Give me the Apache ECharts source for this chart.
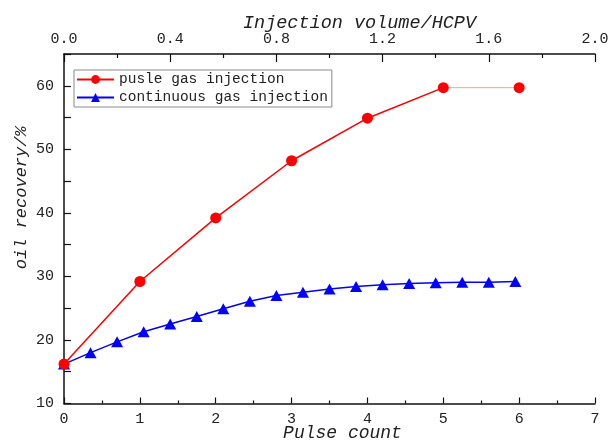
<!DOCTYPE html>
<html>
<head>
<meta charset="utf-8">
<script src="https://cdn.jsdelivr.net/npm/echarts@6/dist/echarts.min.js"></script>
<style>html,body{margin:0;padding:0;background:#fff}#c{width:609px;height:441px}</style>
</head>
<body>
<div id="c"></div>
<script>
// Pulse gas injection: x = pulse count (bottom axis)
const pulseX = [0, 1, 2, 3, 4, 5, 6];
const pulseY = [16.2, 29.2, 39.2, 48.2, 54.9, 59.7, 59.7];
// Continuous gas injection: x = injection volume HCPV (top axis)
const contX = [0, 0.1, 0.2, 0.3, 0.4, 0.5, 0.6, 0.7, 0.8, 0.9, 1.0, 1.1, 1.2, 1.3, 1.4, 1.5, 1.6, 1.7];
const contY = [16.2, 18.0, 19.7, 21.3, 22.5, 23.7, 24.9, 26.1, 27.0, 27.5, 28.0, 28.4, 28.7, 28.9, 29.0, 29.1, 29.1, 29.2];

const seriesNames = ['pusle gas injection', 'continuous gas injection'];
const axisNames = { bottom: 'Pulse count', top: 'Injection volume/HCPV', left: 'oil recovery/%' };

const FONT = '"Liberation Mono", "DejaVu Sans Mono", monospace';
const AX = '#111';

const chart = echarts.init(document.getElementById('c'), null, { renderer: 'canvas' });

const redMain = pulseX.slice(0, 6).map((x, i) => [x, pulseY[i]]);
const redTail = pulseX.slice(5).map((x, i) => {
  const pt = [x, pulseY[i + 5]];
  return i === 0 ? { value: pt, symbol: 'none' } : pt;
});

chart.setOption({
  animation: false,
  backgroundColor: '#fff',
  grid: { left: 64, right: 14, top: 54, bottom: 37.5, containLabel: false, outerBoundsMode: 'none' },
  legend: {
    orient: 'vertical',
    left: 74, top: 70,
    data: seriesNames,
    itemWidth: 37, itemHeight: 11, itemGap: 3,
    borderColor: '#8a8a8a', borderWidth: 1,
    padding: [2, 4, 2, 2],
    textStyle: { fontFamily: FONT, fontSize: 14.5, color: '#222' }
  },
  xAxis: [
    {
      type: 'value', position: 'bottom', min: 0, max: 7, interval: 1,
      axisLine: { show: true, onZero: false, lineStyle: { color: AX, width: 1.5 } },
      axisTick: { show: true, inside: true, length: 6, lineStyle: { color: AX, width: 1.2 } },
      minorTick: { show: true, splitNumber: 2, length: 3, lineStyle: { color: AX, width: 1.2 } },
      axisLabel: { color: '#222', fontFamily: FONT, fontSize: 15, margin: 8 },
      splitLine: { show: false },
      name: axisNames.bottom, nameLocation: 'middle', nameGap: 21, nameMoveOverlap: false,
      nameTextStyle: { fontFamily: FONT, fontStyle: 'italic', fontSize: 18, color: '#222', padding: [0, 0, 0, 26] }
    },
    {
      type: 'value', position: 'top', min: 0, max: 2, interval: 0.4,
      axisLine: { show: true, onZero: false, lineStyle: { color: AX, width: 1.5 } },
      axisTick: { show: true, inside: true, length: 8, lineStyle: { color: AX, width: 1.2 } },
      minorTick: { show: true, splitNumber: 2, length: 4, lineStyle: { color: AX, width: 1.2 } },
      axisLabel: { color: '#222', fontFamily: FONT, fontSize: 15, margin: 7,
        formatter: v => v.toFixed(1) },
      splitLine: { show: false },
      name: axisNames.top, nameLocation: 'middle', nameGap: 21, nameMoveOverlap: false,
      nameTextStyle: { fontFamily: FONT, fontStyle: 'italic', fontSize: 18.5, color: '#222', padding: [0, 0, 0, 60] }
    }
  ],
  yAxis: {
    type: 'value', min: 10, max: 65, interval: 5,
    axisLine: { show: true, onZero: false, lineStyle: { color: AX, width: 1.5 } },
    axisTick: { show: true, inside: true, length: 7, lineStyle: { color: AX, width: 1.2 } },
    axisLabel: { color: '#222', fontFamily: FONT, fontSize: 15, margin: 10,
      formatter: v => (v % 10 === 0 && v < 65) ? String(v) : '' },
    splitLine: { show: false },
    name: axisNames.left, nameLocation: 'middle', nameGap: 34, nameMoveOverlap: false,
    nameTextStyle: { fontFamily: FONT, fontStyle: 'italic', fontSize: 17, color: '#222', padding: [0, 0, 0, 62] }
  },
  series: [
    {
      name: seriesNames[0], type: 'line', xAxisIndex: 0,
      data: redMain,
      symbol: 'circle', symbolSize: 11,
      itemStyle: { color: '#ff0000' },
      lineStyle: { color: '#ff0000', width: 1.5 },
      z: 3
    },
    {
      name: seriesNames[1], type: 'line', xAxisIndex: 1,
      data: contX.map((x, i) => [x, contY[i]]),
      symbol: 'triangle', symbolSize: [12, 11],
      itemStyle: { color: '#0000ff' },
      lineStyle: { color: '#0000ff', width: 1.5 },
      z: 2
    },
    {
      name: 'tail', type: 'line', xAxisIndex: 0,
      data: redTail,
      symbol: 'circle', symbolSize: 11,
      itemStyle: { color: '#ff0000' },
      lineStyle: { color: '#f4a0a0', width: 1 },
      z: 3
    }
  ]
});
</script>
</body>
</html>
